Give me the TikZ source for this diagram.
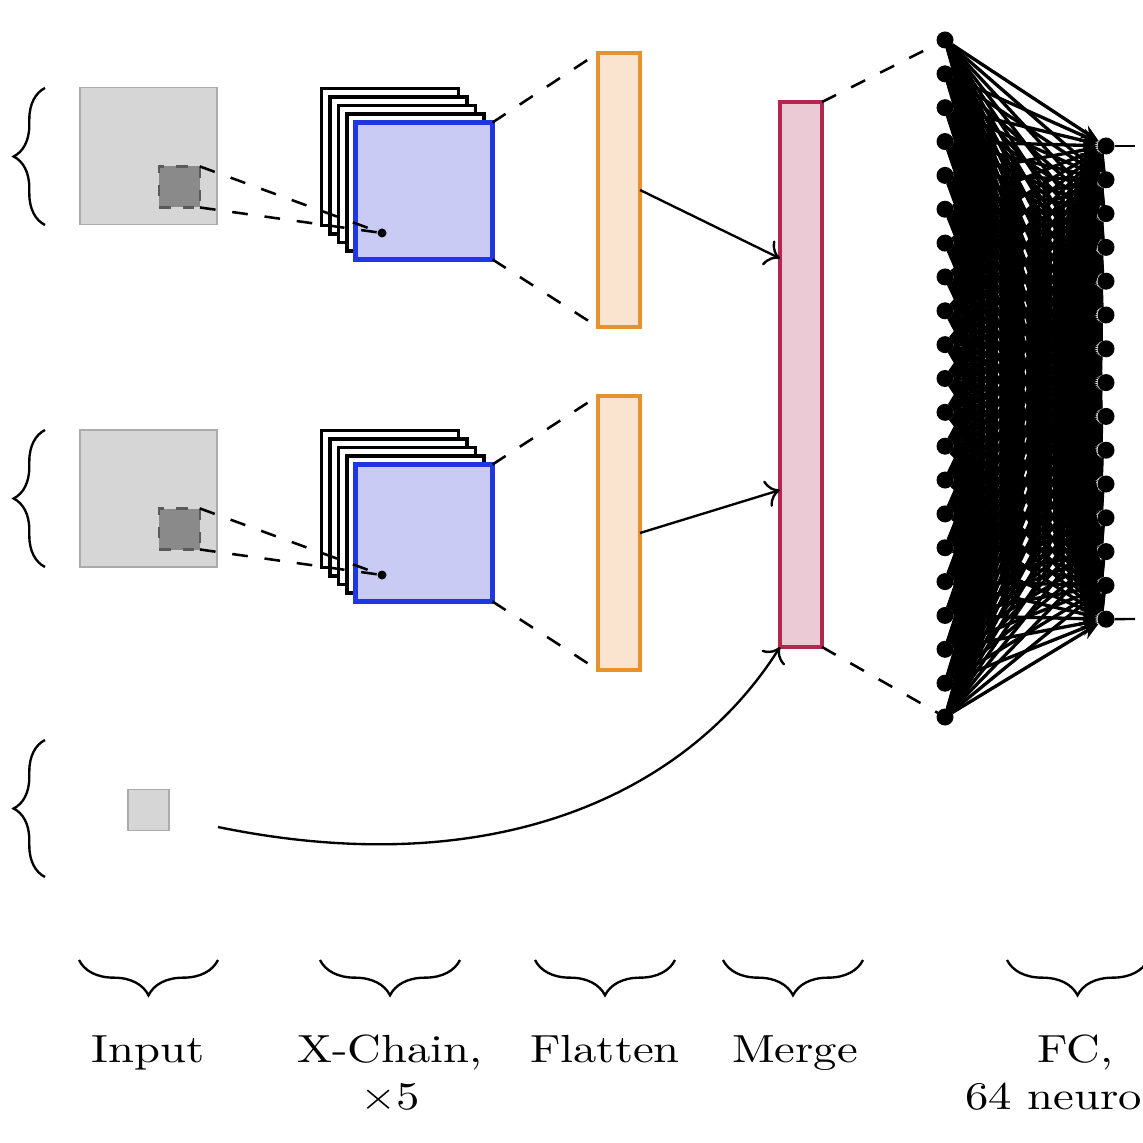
\documentclass[tikz,border=0pt]{standalone}
\usepackage{graphicx}
\usetikzlibrary{arrows.meta,decorations.pathreplacing,calc}
\newcommand\upx{0.255pt}
\newcommand\lbl[1]{\scalebox{1.19}[1]{#1}}
\definecolor{inpfill}{HTML}{D6D6D6}
\definecolor{inpdraw}{HTML}{ABABAB}
\definecolor{patchfill}{HTML}{8A8A8A}
\definecolor{patchdraw}{HTML}{5A5A5A}
\definecolor{chainfill}{HTML}{C9CBF5}
\definecolor{chaindraw}{HTML}{1F36E3}
\definecolor{flatfill}{HTML}{FAE3CF}
\definecolor{flatdraw}{HTML}{E8922E}
\definecolor{mergefill}{HTML}{EBCAD6}
\definecolor{mergedraw}{HTML}{B5264F}
\begin{document}
\begin{tikzpicture}[x=\upx, y=-\upx,
  box/.style={rectangle, inner sep=0pt, outer sep=0pt},
  inputbox/.style={box, fill=inpfill, draw=inpdraw, line width=0.5pt, minimum width=137*\upx, minimum height=137*\upx},
  smallinput/.style={box, fill=inpfill, draw=inpdraw, line width=0.5pt, minimum width=41*\upx, minimum height=41*\upx},
  patch/.style={box, fill=patchfill, draw=patchdraw, line width=0.6pt, dashed, minimum width=41*\upx, minimum height=41*\upx},
  frame/.style={box, fill=white, draw=black, line width=0.8pt, minimum width=137*\upx, minimum height=137*\upx},
  chain/.style={box, fill=chainfill, draw=chaindraw, line width=1.1pt, minimum width=137*\upx, minimum height=137*\upx},
  flat/.style={box, fill=flatfill, draw=flatdraw, line width=1.1pt, minimum width=42*\upx, minimum height=274*\upx},
  mergebox/.style={box, fill=mergefill, draw=mergedraw, line width=1.1pt, minimum width=42*\upx, minimum height=545*\upx},
  smalldot/.style={circle, fill=black, inner sep=0pt, minimum size=9*\upx},
  neuron/.style={circle, fill=black, inner sep=0pt, outer sep=0pt, minimum size=17*\upx},
  dashline/.style={line width=0.65pt, dash pattern=on 4pt off 4.3pt},
  arr/.style={line width=0.6pt, -{To[length=3.5pt,width=7pt]}},
  fcarrow/.style={line width=0.85pt, -{Stealth[length=4.5pt,width=3.6pt]}},
  curly/.style={decorate, line width=0.6pt},
  lab/.style={anchor=base, inner sep=0pt}
]
\useasboundingbox (0,0) rectangle (1143,1143);
\clip (0,0) rectangle (1143,1143);

% inputs
\node[inputbox] (in1) at (148.5,156) {};
\node[inputbox] (in2) at (148.5,498.5) {};
\node[smallinput] (in3) at (148.5,810) {};
\node[patch] (p1) at (179.5,187) {};
\node[patch] (p2) at (179.5,529) {};

% x-chain stacks
\foreach \k/\m in {a/4,b/3,c/2,d/1} {
  \node[frame] (f1\k) at ({424-8.5*\m},{191-8.5*\m}) {};
  \node[frame] (f2\k) at ({424-8.5*\m},{533-8.5*\m}) {};
}
\node[chain] (ch1) at (424,191) {};
\node[chain] (ch2) at (424,533) {};
\node[smalldot] (d1) at (382,233) {};
\node[smalldot] (d2) at (382,575) {};

% flatten and merge
\node[flat] (fl1) at (619,190) {};
\node[flat] (fl2) at (619,533) {};
\node[mergebox] (mg) at (801,374.5) {};

% neurons
\foreach \i in {1,...,21} \node[neuron] (l\i) at (945,{40+33.85*(\i-1)}) {};
\foreach \j in {1,...,15} \node[neuron] (r\j) at (1106,{146+33.8*(\j-1)}) {};
\coordinate (o1) at (1135,146);
\coordinate (o2) at (1135,619);
\coordinate (cstart) at (218,827);

% connectors
\draw[dashline] (p1.north east) -- (d1.center);
\draw[dashline] (p1.south east) -- (d1.center);
\draw[dashline] (p2.north east) -- (d2.center);
\draw[dashline] (p2.south east) -- (d2.center);
\draw[dashline] (ch1.north east) -- (fl1.north west);
\draw[dashline] (ch1.south east) -- (fl1.south west);
\draw[dashline] (ch2.north east) -- (fl2.north west);
\draw[dashline] (ch2.south east) -- (fl2.south west);
\draw[arr] (fl1.east) -- ($(mg.north west)!0.287!(mg.south west)$);
\draw[arr] (fl2.east) -- ($(mg.north west)!0.712!(mg.south west)$);
\draw[arr] (cstart) .. controls (500,885) and (690,790) .. (mg.south west);
\draw[dashline] (mg.north east) -- (l1);
\draw[dashline] (mg.south east) -- (l21);
\foreach \i in {1,...,21} \foreach \j in {1,...,15} \draw[fcarrow] (l\i) -- (r\j);
\draw[line width=0.6pt] (r1) -- (o1);
\draw[line width=0.6pt] (r15) -- (o2);

% left braces
\draw[curly, decoration={brace, amplitude=8pt}] (45,225) -- (45,88);
\draw[curly, decoration={brace, amplitude=8pt}] (45,567) -- (45,430);
\draw[curly, decoration={brace, amplitude=8pt}] (45,877) -- (45,740);

% bottom braces
\draw[curly, decoration={brace, amplitude=9pt}] (218,960) -- (79,960);
\draw[curly, decoration={brace, amplitude=9pt}] (460,960) -- (320,960);
\draw[curly, decoration={brace, amplitude=9pt}] (675,960) -- (535,960);
\draw[curly, decoration={brace, amplitude=9pt}] (863,960) -- (723,960);
\draw[curly, decoration={brace, amplitude=9pt}] (1148,960) -- (1007,960);

% labels
\node[lab] (t1) at (148,1062) {\lbl{Input}};
\node[lab] (t2) at (390,1062) {\lbl{X-Chain,}};
\node[lab] (t2b) at (390,1109) {\lbl{$\times$5}};
\node[lab] (t3) at (605,1062) {\lbl{Flatten}};
\node[lab] (t4) at (795,1062) {\lbl{Merge}};
\node[lab] (t5) at (1075,1062) {\lbl{FC,}};
\node[lab] (t5b) at (1076,1109) {\lbl{64 neurons}};
\end{tikzpicture}
\end{document}
